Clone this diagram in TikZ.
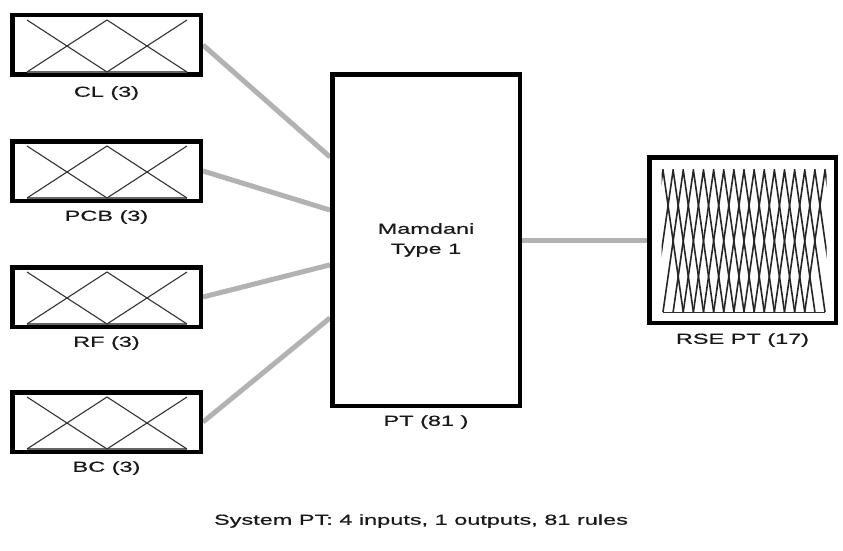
\documentclass[tikz,border=0pt]{standalone}
\usepackage{fontspec}
\setmainfont{Liberation Sans}[FakeStretch=1.62,FakeBold=0.6]
\usetikzlibrary{calc}
\pgfdeclarelayer{bg}
\pgfsetlayers{bg,main}
\tikzset{
  fbox/.style={draw=black, line width=4.5pt, fill=white, inner sep=0pt, rectangle},
  inbox/.style={fbox, minimum width=188.5pt, minimum height=59.5pt},
  conn/.style={draw=black!30, line width=5pt},
  mf/.style={draw=black!80, line width=1.1pt},
  base/.style={draw=black!60, line width=2pt},
  lbl/.style={font=\fontsize{14.5}{20}\selectfont, text=black!90, inner sep=0pt}
}
\begin{document}
\begin{tikzpicture}[x=1pt,y=-1pt]
\useasboundingbox (0,0) rectangle (843,551);
% input boxes
\node[inbox] (cl)  at (106.5,45)  {};
\node[inbox] (pcb) at (106.5,171) {};
\node[inbox] (rf)  at (106.5,297) {};
\node[inbox] (bc)  at (106.5,422) {};
\foreach \n in {cl,pcb,rf,bc}{
  \begin{scope}[shift={(\n.center)}]
    \draw[base] (-79.5,27) -- (80.5,27);
    \draw[mf] (-79.5,-25) -- (0.5,27) -- (80.5,-25);
    \draw[mf] (-79.5,27) -- (0.5,-25) -- (80.5,27);
  \end{scope}
}
\node[lbl] (cllab)  at (106.5,93)  {CL (3)};
\node[lbl] (pcblab) at (106.5,217) {PCB (3)};
\node[lbl] (rflab)  at (106.5,343) {RF (3)};
\node[lbl] (bclab)  at (106.5,468) {BC (3)};
% Mamdani box
\node[fbox, minimum width=187.5pt, minimum height=331.5pt, lbl, align=center] (mam) at (426,240) {Mamdani\\Type 1};
\node[lbl] (mamlab) at (426,422) {PT (81 )};
% output box
\node[fbox, minimum width=186.5pt, minimum height=165.5pt] (rse) at (742.5,240) {};
\begin{scope}[shift={(rse.center)}]
  \draw[mf, line width=0.8pt] (-79.5,72) -- (82.5,72);
  \begin{scope}
    \clip (-81,-71) rectangle (84,73);
    \foreach \i in {0,...,16}{
      \pgfmathsetmacro{\xp}{-79.5+10.125*\i}
      \draw[mf, draw=black!85, line width=1.6pt] (\xp-20.25,72) -- (\xp,-70) -- (\xp+20.25,72);
    }
  \end{scope}
\end{scope}
\node[lbl] (rselab) at (742.5,340) {RSE PT (17)};
% connectors
\coordinate (m1) at ($(mam.north west)!0.253!(mam.south west)$);
\coordinate (m2) at ($(mam.north west)!0.411!(mam.south west)$);
\coordinate (m3) at ($(mam.north west)!0.574!(mam.south west)$);
\coordinate (m4) at ($(mam.north west)!0.732!(mam.south west)$);
\begin{pgfonlayer}{bg}
  \draw[conn] (cl.east) -- (m1);
  \draw[conn] (pcb.east) -- (m2);
  \draw[conn] (rf.east) -- (m3);
  \draw[conn] (bc.east) -- (m4);
  \draw[conn] (mam.east) -- (rse.west);
\end{pgfonlayer}
% caption
\node[lbl] (cap) at (421,521) {System PT: 4 inputs, 1 outputs, 81 rules};
\end{tikzpicture}
\end{document}
